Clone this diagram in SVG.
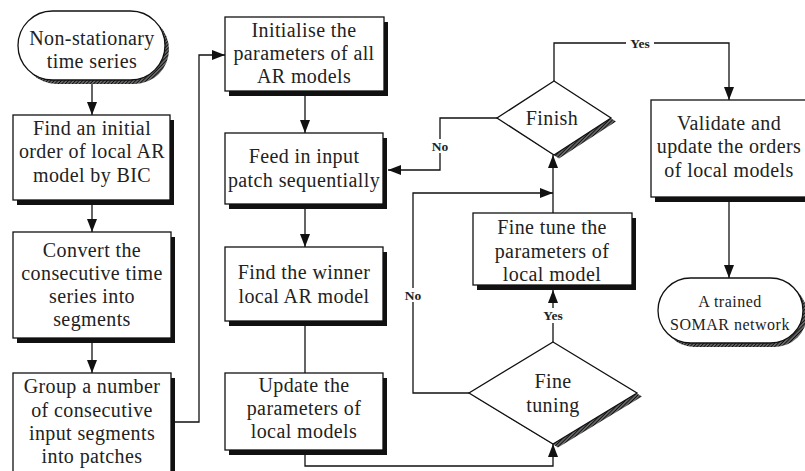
<svg xmlns="http://www.w3.org/2000/svg" width="805" height="471" viewBox="0 0 805 471">
  <style>
    .box { fill: #fff; stroke: #111; stroke-width: 1.3; }
    .shadow { fill: #111; }
    .hshadow { fill: url(#hatch); }
    .t { font-family: "Liberation Serif", "Times New Roman", serif; font-size: 20px; letter-spacing: 0.4px; fill: #222; text-anchor: middle; }
    .ts { font-family: "Liberation Serif", "Times New Roman", serif; font-size: 16px; letter-spacing: 0.5px; fill: #222; text-anchor: middle; }
    .lbl { font-family: "Liberation Serif", "Times New Roman", serif; font-size: 13.5px; font-weight: bold; fill: #222; text-anchor: middle; }
    .conn { fill: none; stroke: #111; stroke-width: 1.3; }
    .gap { fill: #fff; }
  </style>
  <defs>
    <pattern id="hatch" width="2.5" height="2.5" patternUnits="userSpaceOnUse" patternTransform="rotate(45)">
      <rect width="2.5" height="2.5" fill="#666"/>
      <line x1="0" y1="0" x2="0" y2="2.5" stroke="#000" stroke-width="1.5"/>
    </pattern>
    <marker id="arrow" markerUnits="userSpaceOnUse" markerWidth="14" markerHeight="11" refX="13" refY="5" orient="auto">
      <path d="M0,0 L13,5 L0,10 z" fill="#111"/>
    </marker>
  </defs>

  <!-- connectors -->
  <g id="connectors">
    <path class="conn" d="M92,84 V115" marker-end="url(#arrow)"/>
    <path class="conn" d="M92,205 V232" marker-end="url(#arrow)"/>
    <path class="conn" d="M92,343 V373" marker-end="url(#arrow)"/>
    <path class="conn" d="M175,422 H199 V55 H225" marker-end="url(#arrow)"/>
    <path class="conn" d="M305,96 V133" marker-end="url(#arrow)"/>
    <path class="conn" d="M305,209 V247" marker-end="url(#arrow)"/>
    <path class="conn" d="M305,326 V373"/>
    <path class="conn" d="M305,455 V466 H553 V444" marker-end="url(#arrow)"/>
    <path class="conn" d="M553,342 V290" marker-end="url(#arrow)"/>
    <path class="conn" d="M469,393 H413 V193 H553" marker-end="url(#arrow)"/>
    <path class="conn" d="M553,213 V155" marker-end="url(#arrow)"/>
    <path class="conn" d="M497,118 H440 V170 H388" marker-end="url(#arrow)"/>
    <path class="conn" d="M554,81 V43 H729 V100" marker-end="url(#arrow)"/>
    <path class="conn" d="M729,202 V278" marker-end="url(#arrow)"/>
    <!-- branch labels -->
    <rect class="gap" x="626" y="36" width="28" height="14"/>
    <text class="lbl" x="640" y="48">Yes</text>
    <rect class="gap" x="430" y="139" width="20" height="14"/>
    <text class="lbl" x="440" y="151">No</text>
    <rect class="gap" x="403" y="288" width="20" height="14"/>
    <text class="lbl" x="413" y="300">No</text>
    <rect class="gap" x="539" y="308" width="28" height="15"/>
    <text class="lbl" x="553" y="320">Yes</text>
  </g>

  <g id="start">
    <rect class="hshadow" x="22" y="15" width="147" height="69" rx="34.5"/>
    <rect class="box" x="18" y="11" width="147" height="69" rx="34.5"/>
    <text class="t" x="92" y="45">Non-stationary</text>
    <text class="t" x="92" y="68">time series</text>
  </g>

  <g id="initial-order">
    <rect class="shadow" x="17" y="120" width="157" height="85"/>
    <rect class="box" x="13" y="115" width="157" height="85"/>
    <text class="t" x="92" y="135">Find an initial</text>
    <text class="t" x="92" y="158">order of local AR</text>
    <text class="t" x="92" y="182">model by BIC</text>
  </g>

  <g id="segments">
    <rect class="shadow" x="17" y="237" width="158" height="106"/>
    <rect class="box" x="13" y="232" width="158" height="106"/>
    <text class="t" x="92" y="257">Convert the</text>
    <text class="t" x="92" y="280">consecutive time</text>
    <text class="t" x="92" y="303">series into</text>
    <text class="t" x="92" y="326">segments</text>
  </g>

  <g id="patches">
    <rect class="shadow" x="17" y="378" width="158" height="110"/>
    <rect class="box" x="13" y="373" width="158" height="110"/>
    <text class="t" x="92" y="393">Group a number</text>
    <text class="t" x="92" y="417">of consecutive</text>
    <text class="t" x="92" y="440">input segments</text>
    <text class="t" x="92" y="463">into patches</text>
  </g>

  <g id="initialise">
    <rect class="shadow" x="229" y="22" width="159" height="74"/>
    <rect class="box" x="225" y="17" width="159" height="74"/>
    <text class="t" x="304" y="37">Initialise the</text>
    <text class="t" x="304" y="60">parameters of all</text>
    <text class="t" x="304" y="83">AR models</text>
  </g>

  <g id="feed">
    <rect class="shadow" x="229" y="138" width="158" height="71"/>
    <rect class="box" x="225" y="133" width="158" height="71"/>
    <text class="t" x="304" y="163">Feed in input</text>
    <text class="t" x="304" y="187">patch sequentially</text>
  </g>

  <g id="winner">
    <rect class="shadow" x="229" y="252" width="158" height="74"/>
    <rect class="box" x="225" y="247" width="158" height="74"/>
    <text class="t" x="304" y="279">Find the winner</text>
    <text class="t" x="304" y="303">local AR model</text>
  </g>

  <g id="update">
    <rect class="shadow" x="229" y="378" width="158" height="77"/>
    <rect class="box" x="225" y="373" width="158" height="77"/>
    <text class="t" x="304" y="392">Update the</text>
    <text class="t" x="304" y="415">parameters of</text>
    <text class="t" x="304" y="438">local models</text>
  </g>

  <g id="finish">
    <polygon class="hshadow" points="559,84.5 616,121.5 559,158.5 502,121.5"/>
    <polygon class="box" points="554,81 611,118 554,155 497,118"/>
    <text class="t" x="552" y="125">Finish</text>
  </g>

  <g id="fine-tune">
    <rect class="shadow" x="477" y="218" width="159" height="72"/>
    <rect class="box" x="473" y="213" width="159" height="72"/>
    <text class="t" x="552" y="234">Fine tune the</text>
    <text class="t" x="552" y="258">parameters of</text>
    <text class="t" x="552" y="281">local model</text>
  </g>

  <g id="fine-tuning">
    <polygon class="hshadow" points="558,345.5 642,396.5 558,447.5 474,396.5"/>
    <polygon class="box" points="553,342 637,393 553,444 469,393"/>
    <text class="t" x="553" y="388">Fine</text>
    <text class="t" x="553" y="412">tuning</text>
  </g>

  <g id="validate">
    <rect class="shadow" x="655" y="105" width="170" height="97"/>
    <rect class="box" x="651" y="100" width="170" height="97"/>
    <text class="t" x="729" y="130">Validate and</text>
    <text class="t" x="729" y="153">update the orders</text>
    <text class="t" x="729" y="177">of local models</text>
  </g>

  <g id="end">
    <rect class="hshadow" x="662" y="282" width="145" height="65" rx="32.5"/>
    <rect class="box" x="658" y="278" width="145" height="65" rx="32.5"/>
    <text class="ts" x="730" y="307">A trained</text>
    <text class="ts" x="730" y="330">SOMAR network</text>
  </g>
</svg>
